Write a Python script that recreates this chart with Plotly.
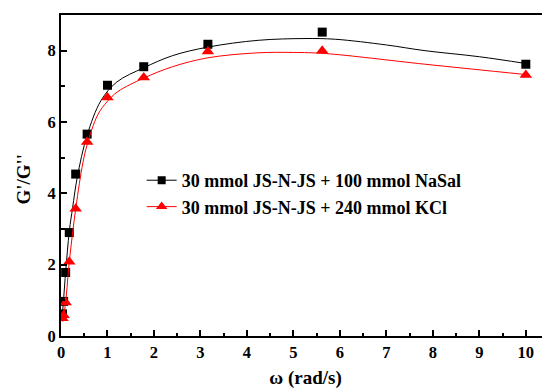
import plotly.graph_objects as go

# Measured data points
omega = [0.0316, 0.0562, 0.1, 0.178, 0.316, 0.562, 1.0, 1.78, 3.16, 5.62, 10.0]
ratio_nasal = [0.62, 0.97, 1.78, 2.9, 4.54, 5.66, 7.03, 7.55, 8.18, 8.52, 7.62]
ratio_kcl = [0.5, 0.58, 0.94, 2.08, 3.57, 5.44, 6.69, 7.25, 7.98, 8.0, 7.32]

# Fitted curves
fit_x_nasal = [0.03, 0.06, 0.1, 0.18, 0.25, 0.35, 0.56, 0.86, 1.2, 1.78, 2.4, 3.16, 4.24, 5.25, 5.9, 7.0, 7.83, 9.0, 10.0]
fit_y_nasal = [0.6, 1.1, 1.8, 2.95, 3.6, 4.45, 5.62, 6.6, 7.12, 7.52, 7.86, 8.1, 8.29, 8.34, 8.32, 8.16, 8.0, 7.83, 7.64]
fit_x_kcl = [0.04, 0.1, 0.18, 0.32, 0.47, 0.56, 0.79, 1.0, 1.22, 1.78, 2.4, 3.16, 4.24, 5.0, 5.68, 7.83, 10.0]
fit_y_kcl = [0.4, 0.95, 2.1, 3.6, 4.85, 5.35, 6.2, 6.58, 6.85, 7.23, 7.55, 7.8, 7.94, 7.95, 7.92, 7.62, 7.33]

names = ["30 mmol JS-N-JS + 100 mmol NaSal", "30 mmol JS-N-JS + 240 mmol KCl"]
colors = ["#000000", "#ff0000"]
symbols = ["square", "triangle-up"]
msizes = [9, 11]
y_title = "G'/G''"
x_title = "ω (rad/s)"

FONT = "Liberation Serif, Times New Roman, serif"

fig = go.Figure()
for fx, fy, dy, name, c, s, ms in [
    (fit_x_nasal, fit_y_nasal, ratio_nasal, names[0], colors[0], symbols[0], msizes[0]),
    (fit_x_kcl, fit_y_kcl, ratio_kcl, names[1], colors[1], symbols[1], msizes[1]),
]:
    fig.add_trace(go.Scatter(x=fx, y=fy, mode="lines", line=dict(color=c, width=1, shape="spline", smoothing=1.0),
                             showlegend=False, hoverinfo="skip"))
    fig.add_trace(go.Scatter(x=omega, y=dy, mode="markers", marker=dict(symbol=s, size=ms, color=c),
                             showlegend=False))
    fig.add_trace(go.Scatter(x=[None], y=[None], mode="lines+markers", name=name,
                             line=dict(color=c, width=1), marker=dict(symbol=s, size=ms - 1, color=c)))

axis_common = dict(
    showline=True, linecolor="black", linewidth=2, mirror=True,
    ticks="inside", ticklen=6, tickwidth=1.5, tickcolor="black",
    showgrid=False, zeroline=False,
    tickfont=dict(family=FONT, size=16.5, color="black", weight="bold"),
)

fig.update_layout(
    width=550, height=391,
    margin=dict(l=53, r=8, t=5, b=63),
    paper_bgcolor="white", plot_bgcolor="white",
    font=dict(family=FONT, color="black"),
    xaxis=dict(range=[0, 10.52], dtick=1, tick0=0,
               minor=dict(dtick=0.5, ticks="inside", ticklen=3.5, tickwidth=1.5, tickcolor="black"),
               title=dict(text=x_title, font=dict(family=FONT, size=19, color="black", weight="bold"), standoff=10),
               **axis_common),
    yaxis=dict(range=[0, 9], dtick=2, tick0=0,
               minor=dict(dtick=1, ticks="inside", ticklen=3.5, tickwidth=1.5, tickcolor="black"),
               **axis_common),
    legend=dict(x=0.165, y=0.542, xanchor="left", yanchor="top", bgcolor="rgba(0,0,0,0)",
                font=dict(family=FONT, size=18, color="black", weight="bold"), tracegroupgap=0),
    annotations=[dict(text=y_title, xref="paper", yref="paper", x=-0.076, y=0.49,
                      xanchor="center", yanchor="middle", textangle=-90, showarrow=False,
                      font=dict(family=FONT, size=19, color="black", weight="bold"))],
)

fig.write_html("out.html")
